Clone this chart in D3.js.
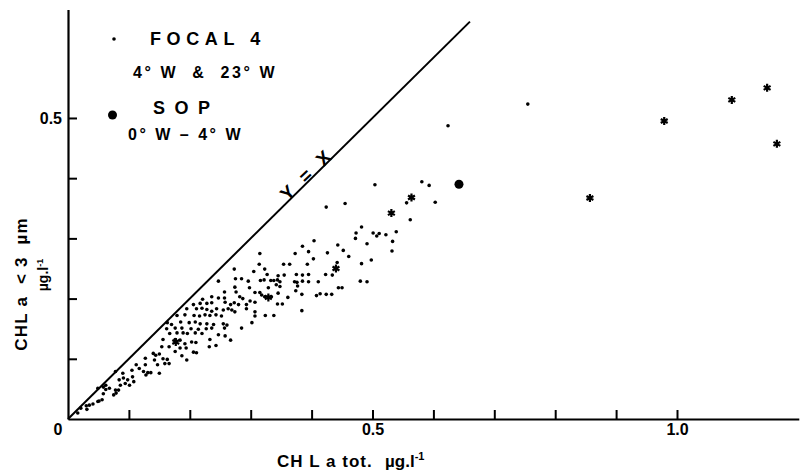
<!DOCTYPE html>
<html>
<head>
<meta charset="utf-8">
<script src="https://cdn.jsdelivr.net/npm/d3@7"></script>
<style>
body { margin: 0; background: #fff; }
svg text { font-family: "Liberation Sans", Arial, Helvetica, sans-serif; font-weight: bold; fill: #000; }
</style>
</head>
<body>
<div id="chart"></div>
<script>
// CHL a tot. (x) vs CHL a < 3 um (y), ug/l
var focal4 = [
    [0.755,0.523],[0.624,0.487],[0.504,0.389],[0.581,0.394],[0.593,0.388],[0.556,0.359],[0.603,0.360],[0.562,0.331],[0.424,0.352],[0.455,0.358],
    [0.482,0.319],[0.473,0.309],[0.472,0.300],[0.501,0.309],[0.507,0.304],[0.511,0.308],[0.522,0.306],[0.539,0.311],[0.533,0.295],[0.491,0.291],
    [0.532,0.279],[0.461,0.270],[0.482,0.258],[0.498,0.264],[0.480,0.229],[0.491,0.228],
    [0.404,0.296],[0.385,0.287],[0.373,0.275],[0.395,0.278],[0.403,0.266],[0.426,0.276],[0.443,0.289],[0.452,0.280],[0.315,0.275],[0.314,0.257],
    [0.354,0.257],[0.364,0.257],[0.393,0.257],[0.442,0.260],[0.434,0.239],[0.423,0.240],[0.323,0.249],[0.327,0.240],[0.375,0.240],[0.385,0.239],
    [0.395,0.240],[0.345,0.238],[0.355,0.239],[0.316,0.230],[0.322,0.231],[0.333,0.230],[0.338,0.230],[0.344,0.231],[0.348,0.228],[0.372,0.228],
    [0.376,0.227],[0.385,0.229],[0.395,0.228],[0.411,0.228],[0.342,0.223],[0.348,0.220],[0.329,0.218],[0.377,0.221],[0.444,0.218],[0.450,0.218],
    [0.374,0.213],[0.315,0.210],[0.318,0.206],[0.345,0.209],[0.384,0.207],[0.414,0.208],[0.408,0.205],[0.424,0.207],[0.433,0.207],[0.323,0.203],
    [0.334,0.203],[0.361,0.202],[0.307,0.194],[0.344,0.191],[0.352,0.191],[0.384,0.180],[0.307,0.178],[0.307,0.171],[0.324,0.172],[0.338,0.172],
    [0.273,0.249],[0.247,0.229],[0.275,0.233],[0.285,0.233],[0.296,0.229],[0.305,0.245],[0.274,0.219],[0.298,0.218],[0.307,0.210],[0.276,0.211],
    [0.257,0.211],[0.221,0.199],[0.236,0.203],[0.247,0.201],[0.257,0.201],[0.282,0.203],[0.287,0.200],[0.206,0.190],[0.217,0.192],[0.228,0.192],
    [0.236,0.193],[0.258,0.194],[0.267,0.190],[0.273,0.193],[0.280,0.190],[0.293,0.190],[0.299,0.196],[0.195,0.183],[0.211,0.183],[0.220,0.184],
    [0.228,0.182],[0.236,0.179],[0.244,0.183],[0.255,0.181],[0.263,0.183],[0.269,0.181],[0.274,0.178],[0.293,0.183],[0.179,0.172],[0.192,0.173],
    [0.207,0.172],[0.216,0.171],[0.225,0.173],[0.233,0.172],[0.243,0.173],[0.252,0.171],[0.163,0.160],[0.170,0.157],[0.185,0.161],[0.199,0.160],
    [0.209,0.161],[0.217,0.158],[0.228,0.158],[0.239,0.157],[0.255,0.158],[0.261,0.156],[0.302,0.160],[0.162,0.150],[0.176,0.151],[0.187,0.151],
    [0.202,0.150],[0.214,0.149],[0.227,0.150],[0.236,0.151],[0.257,0.151],[0.285,0.151],[0.167,0.142],[0.179,0.143],[0.189,0.143],[0.196,0.142],
    [0.209,0.143],[0.220,0.142],[0.247,0.140],[0.258,0.138],[0.156,0.132],[0.176,0.132],[0.184,0.131],[0.203,0.128],[0.233,0.132],[0.267,0.131],
    [0.192,0.125],[0.210,0.127],[0.232,0.120],[0.243,0.122],[0.154,0.120],[0.166,0.120],[0.184,0.118],[0.194,0.118],[0.176,0.112],[0.206,0.111],
    [0.211,0.110],[0.187,0.105],[0.195,0.098],[0.156,0.100],[0.163,0.099],[0.159,0.092],[0.166,0.092],
    [0.140,0.109],[0.144,0.106],[0.150,0.108],[0.127,0.101],[0.142,0.098],[0.147,0.090],[0.112,0.090],[0.117,0.084],[0.127,0.090],[0.124,0.079],
    [0.131,0.077],[0.136,0.077],[0.150,0.076],[0.128,0.073],[0.105,0.081],[0.090,0.076],[0.091,0.068],[0.094,0.059],[0.098,0.065],[0.101,0.056],
    [0.106,0.070],[0.108,0.062],[0.084,0.065],[0.086,0.056],[0.083,0.048],[0.078,0.048],[0.079,0.043],[0.075,0.040],[0.068,0.051],[0.062,0.049],
    [0.058,0.042],[0.049,0.029],[0.051,0.030],[0.056,0.032],[0.041,0.025],[0.035,0.023],[0.030,0.022],[0.031,0.016],[0.021,0.018],[0.016,0.010],
    [0.049,0.051],[0.058,0.053],[0.062,0.056],[0.078,0.079]
];

// asterisk points (not in legend)
var starPts = [
    [0.329,0.202],[0.440,0.250],[0.531,0.342],[0.564,0.368],[0.857,0.367],
    [0.979,0.495],[1.090,0.530],[1.148,0.550],[1.164,0.457],[0.177,0.128]
];

var sop = [[0.642,0.390]];

var xTicks = [0.1,0.2,0.3,0.4,0.5,0.6,0.7,0.8,0.9,1.0];
var xLabels = [0.5,1.0];
var yTicks = [0.1,0.2,0.3,0.4,0.5];
var yLabels = [0.5];
var identityLine = [[0,0],[0.66,0.66]];

var width = 800, height = 474;

var svg = d3.select("#chart").append("svg")
    .attr("width", width)
    .attr("height", height);

var x = d3.scaleLinear().domain([0, 1.2]).range([68, 798.8]);
var y = d3.scaleLinear().domain([0, 0.68]).range([419, 9.6]);

var fmt = d3.format(".1f");

var xAxis = d3.axisBottom(x)
    .tickValues(xTicks)
    .tickSizeInner(-9)
    .tickSizeOuter(0)
    .tickPadding(5)
    .tickFormat(function(d) { return xLabels.indexOf(d) >= 0 ? fmt(d) : ""; });

var yAxis = d3.axisLeft(y)
    .tickValues(yTicks)
    .tickSizeInner(-9)
    .tickSizeOuter(0)
    .tickPadding(6)
    .tickFormat(function(d) { return yLabels.indexOf(d) >= 0 ? fmt(d) : ""; });

var gx = svg.append("g")
    .attr("transform", "translate(0,419)")
    .call(xAxis);
var gy = svg.append("g")
    .attr("transform", "translate(68,0)")
    .call(yAxis);

[gx, gy].forEach(function(g) {
    g.attr("font-family", null).attr("font-size", 16);
    g.select(".domain").attr("stroke", "#000").attr("stroke-width", 2.2);
    g.selectAll(".tick line").attr("stroke", "#000").attr("stroke-width", 2);
});

// origin label
svg.append("text")
    .attr("x", x(0) - 10)
    .attr("y", 435)
    .attr("text-anchor", "middle")
    .attr("font-size", 16)
    .text("0");

// y = x line
var line = d3.line()
    .x(function(d) { return x(d[0]); })
    .y(function(d) { return y(d[1]); });

svg.append("path")
    .datum(identityLine)
    .attr("d", line)
    .attr("fill", "none")
    .attr("stroke", "#000")
    .attr("stroke-width", 2);

svg.append("text")
    .attr("transform", "translate(307,174) rotate(-44)")
    .attr("text-anchor", "middle")
    .attr("dy", "0.35em")
    .attr("font-size", 19)
    .attr("letter-spacing", 4)
    .style("white-space", "pre")
    .text("Y = X");

// points
svg.append("g").selectAll("circle")
    .data(focal4)
    .enter().append("circle")
    .attr("cx", function(d) { return x(d[0]); })
    .attr("cy", function(d) { return y(d[1]); })
    .attr("r", 1.8)
    .attr("fill", "#000");

var asterisk = {
    draw: function(context, size) {
        var r = Math.sqrt(size) / 2, t = r / 2, u = t * Math.sqrt(3);
        context.moveTo(0, r); context.lineTo(0, -r);
        context.moveTo(-u, -t); context.lineTo(u, t);
        context.moveTo(-u, t); context.lineTo(u, -t);
    }
};

svg.append("g").selectAll("path")
    .data(starPts)
    .enter().append("path")
    .attr("transform", function(d) { return "translate(" + x(d[0]) + "," + y(d[1]) + ")"; })
    .attr("d", d3.symbol().type(asterisk).size(64))
    .attr("fill", "none")
    .attr("stroke", "#000")
    .attr("stroke-width", 2.2);

svg.append("g").selectAll("circle")
    .data(sop)
    .enter().append("circle")
    .attr("cx", function(d) { return x(d[0]); })
    .attr("cy", function(d) { return y(d[1]); })
    .attr("r", 4.5)
    .attr("fill", "#000");

// legend
var legend = svg.append("g");
legend.append("circle").attr("cx", 114).attr("cy", 39).attr("r", 1.8).attr("fill", "#000");
legend.append("text").attr("x", 150).attr("y", 45).attr("font-size", 18)
    .attr("letter-spacing", 5.6).style("white-space", "pre").text("FOCAL 4");
legend.append("text").attr("x", 133).attr("y", 78).attr("font-size", 16)
    .attr("letter-spacing", 2.6).style("white-space", "pre").text("4° W  &  23° W");
legend.append("circle").attr("cx", 112.5).attr("cy", 115).attr("r", 4.5).attr("fill", "#000");
legend.append("text").attr("x", 153).attr("y", 114).attr("font-size", 18)
    .attr("letter-spacing", 9.5).text("SOP");
legend.append("text").attr("x", 128).attr("y", 140).attr("font-size", 16)
    .attr("letter-spacing", 2.5).style("white-space", "pre").text("0° W – 4° W");

// axis titles
var xt = svg.append("text").attr("y", 467).attr("font-size", 17);
xt.append("tspan").attr("x", 277).attr("letter-spacing", 1).style("white-space", "pre").text("CH L a tot.");
xt.append("tspan").attr("x", 385).text("µg.l");
xt.append("tspan").attr("dy", -7).attr("font-size", 11).text("-1");

svg.append("text")
    .attr("transform", "translate(27,284) rotate(-90)")
    .attr("text-anchor", "middle")
    .attr("font-size", 17)
    .attr("letter-spacing", 1.2)
    .style("white-space", "pre")
    .text("CHL a  < 3  µm");

var yt2 = svg.append("text")
    .attr("transform", "translate(48,275) rotate(-90)")
    .attr("text-anchor", "middle")
    .attr("font-size", 14);
yt2.append("tspan").text("µg.l");
yt2.append("tspan").attr("dy", -5).attr("font-size", 9).text("-1");
</script>
</body>
</html>
